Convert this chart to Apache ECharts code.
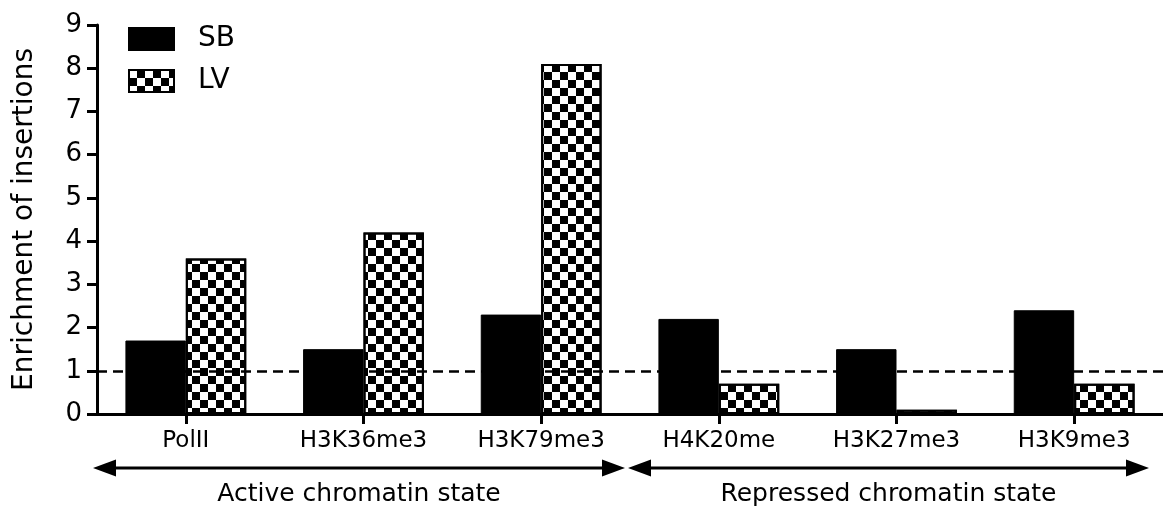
<!DOCTYPE html>
<html>
<head>
<meta charset="utf-8">
<title>Enrichment of insertions</title>
<script src="https://cdn.jsdelivr.net/npm/echarts@6/dist/echarts.min.js"></script>
<style>
  html, body { margin: 0; padding: 0; background: #fff; }
  #chart { width: 1163px; height: 506px; }
</style>
</head>
<body>
<div id="chart"></div>
<script>
// Chromatin marks on the x axis
const categories = ['PolII', 'H3K36me3', 'H3K79me3', 'H4K20me', 'H3K27me3', 'H3K9me3'];
// Enrichment of insertions per vector
const sbValues = [1.7, 1.5, 2.3, 2.2, 1.5, 2.4];
const lvValues = [3.6, 4.2, 8.1, 0.7, 0.1, 0.7];
const seriesNames = ['SB', 'LV'];
// Y axis range and step
const yMin = 0, yMax = 9, yStep = 1;
// Reference level drawn as a dashed line
const baseline = 1;
// Group captions under the axis
const groupLabels = ['Active chromatin state', 'Repressed chromatin state'];

const FONT = 'DejaVu Sans';

// Checkerboard fill for the LV bars
const checker = {
  symbol: 'rect',
  symbolSize: 1,
  color: '#000',
  dashArrayX: [[8, 8], [0, 8, 8, 0]],
  dashArrayY: [8, 0],
  rotation: 0
};

// Horizontal line with a triangular head at each end
function arrow(x1, x2, y) {
  const head = 23, half = 8.5;
  return [
    { type: 'line', shape: { x1: x1 + head - 2, y1: y, x2: x2 - head + 2, y2: y },
      style: { stroke: '#000', lineWidth: 3 } },
    { type: 'polygon', shape: { points: [[x1, y], [x1 + head, y - half], [x1 + head, y + half]] },
      style: { fill: '#000' } },
    { type: 'polygon', shape: { points: [[x2, y], [x2 - head, y - half], [x2 - head, y + half]] },
      style: { fill: '#000' } }
  ];
}

const arrowY = 468;
const groups = [
  { x1: 93, x2: 625, label: groupLabels[0] },
  { x1: 628, x2: 1149, label: groupLabels[1] }
];
const graphics = [];
groups.forEach(g => {
  arrow(g.x1, g.x2, arrowY).forEach(el => graphics.push(el));
  graphics.push({
    type: 'text',
    x: (g.x1 + g.x2) / 2,
    y: 494,
    style: { text: g.label, font: '25px "' + FONT + '"', fill: '#000',
             align: 'center', verticalAlign: 'middle' }
  });
});

const chart = echarts.init(document.getElementById('chart'), null, { renderer: 'canvas' });

chart.setOption({
  backgroundColor: '#fff',
  animation: false,
  grid: { left: 97, top: 25, width: 1073, height: 389, containLabel: false },
  legend: {
    orient: 'vertical',
    left: 128,
    top: 25,
    padding: 0,
    itemGap: 14,
    itemWidth: 45,
    itemHeight: 22,
    icon: 'rect',
    data: seriesNames,
    textStyle: { fontFamily: FONT, fontSize: 28, color: '#000', padding: [0, 0, 0, 19] }
  },
  xAxis: {
    type: 'category',
    data: categories,
    boundaryGap: true,
    axisLine: { show: true, lineStyle: { color: '#000', width: 3 } },
    axisTick: { show: true, alignWithLabel: true, length: 10, lineStyle: { color: '#000', width: 3 } },
    axisLabel: { fontFamily: FONT, fontSize: 23, color: '#000', margin: 16, interval: 0 },
    splitLine: { show: false }
  },
  yAxis: {
    type: 'value',
    min: yMin,
    max: yMax,
    interval: yStep,
    name: 'Enrichment of insertions',
    nameLocation: 'middle',
    nameGap: 58,
    nameTextStyle: { fontFamily: FONT, fontSize: 28, color: '#000' },
    axisLine: { show: true, lineStyle: { color: '#000', width: 3 } },
    axisTick: { show: true, length: 10, lineStyle: { color: '#000', width: 3 } },
    axisLabel: { fontFamily: FONT, fontSize: 26, color: '#000', margin: 15 },
    splitLine: { show: false }
  },
  series: [
    {
      name: seriesNames[0],
      type: 'bar',
      data: sbValues,
      barGap: '0%',
      barCategoryGap: '32%',
      itemStyle: { color: '#000', borderColor: '#000', borderWidth: 1 }
    },
    {
      name: seriesNames[1],
      type: 'bar',
      data: lvValues,
      barGap: '0%',
      barCategoryGap: '32%',
      itemStyle: { color: '#fff', borderColor: '#000', borderWidth: 2, decal: checker }
    },
    {
      name: 'baseline',
      type: 'line',
      data: [],
      z: 5,
      silent: true,
      markLine: {
        silent: true,
        symbol: ['none', 'none'],
        label: { show: false },
        lineStyle: { color: '#000', type: [10, 6], width: 2.5 },
        data: [{ yAxis: baseline }]
      }
    }
  ],
  graphic: graphics
});
</script>
</body>
</html>
